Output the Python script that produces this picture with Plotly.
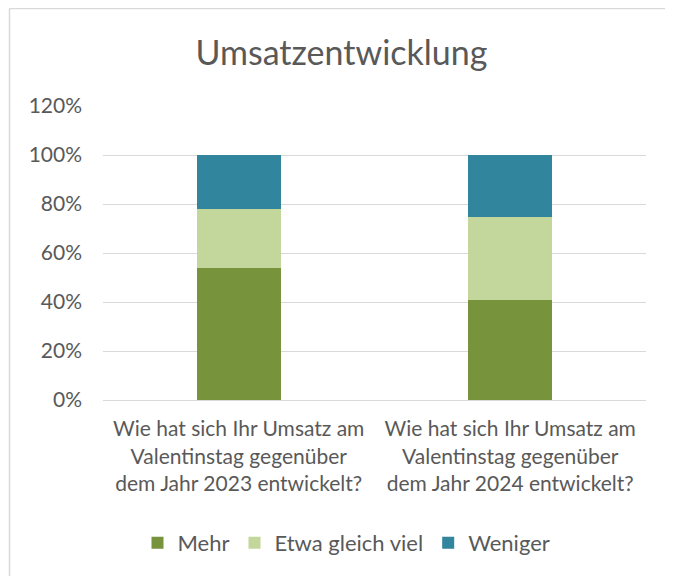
import plotly.graph_objects as go

categories = [
    "Wie hat sich Ihr Umsatz am<br>Valentinstag gegenüber<br>dem Jahr 2023 entwickelt?",
    "Wie hat sich Ihr Umsatz am<br>Valentinstag gegenüber<br>dem Jahr 2024 entwickelt?",
]
mehr = [0.54, 0.41]
etwa = [0.24, 0.335]
weniger = [0.22, 0.255]
series_names = ["Mehr", "Etwa gleich viel", "Weniger"]
colors = ["#77933C", "#C3D69B", "#31859C"]
tick_vals = [0, 0.2, 0.4, 0.6, 0.8, 1.0, 1.2]
tick_text = ["0%", "20%", "40%", "60%", "80%", "100%", "120%"]

FONT = "Lato, 'Open Sans', sans-serif"
GREY = "#595959"

fig = go.Figure()
for name, vals, col in zip(series_names, [mehr, etwa, weniger], colors):
    fig.add_trace(go.Bar(x=categories, y=vals, name=name, marker=dict(color=col, line=dict(width=0))))

# page body has an 8px margin; figure is sized to fill the rest of the window
OFF = 8
W, H = 673 - OFF, 576 - OFF
L, T = 103 - OFF, 106 - OFF
R = W - (646 - OFF)
B = H - (400 - OFF)
pw, ph = W - L - R, H - T - B

fig.update_layout(
    width=W, height=H,
    barmode="stack", bargap=0.69,
    margin=dict(l=L, r=R, t=T, b=B, autoexpand=False),
    paper_bgcolor="white", plot_bgcolor="white",
    font=dict(family=FONT, color=GREY, size=21),
    title=dict(text="Umsatzentwicklung", x=(341.5 - OFF) / W, xanchor="center", xref="container",
               y=1 - (53 - OFF) / H, yanchor="middle", yref="container",
               font=dict(size=34, color=GREY, family=FONT)),
    legend=dict(orientation="h", x=(346.5 - 103) / pw, xanchor="center",
                y=(400 - 543) / ph, yanchor="middle",
                font=dict(size=22, color=GREY), traceorder="normal", itemwidth=30),
    showlegend=True,
)
fig.update_yaxes(range=[0, 1.2], tickvals=tick_vals, ticktext=tick_text, showgrid=True,
                 gridcolor="#D9D9D9", gridwidth=1, zeroline=False, showline=False,
                 ticks="", ticklabelstandoff=20, tickfont=dict(size=21, color=GREY))
fig.update_xaxes(showgrid=False, showline=True, linecolor="#D9D9D9", linewidth=1, ticks="",
                 tickfont=dict(size=21, color=GREY), ticklabelstandoff=10)

# outer chart border (only left & top edges are visible in the window)
x_left = (9.5 - 103) / pw
y_top = 1 + (106 - 8.5) / ph
fig.add_shape(type="line", xref="paper", yref="paper",
              x0=x_left, x1=x_left, y0=(400 - 700) / ph, y1=y_top,
              line=dict(color="#D9D9D9", width=1.5), layer="below")
fig.add_shape(type="line", xref="paper", yref="paper",
              x0=x_left, x1=(760 - 103) / pw, y0=y_top, y1=y_top,
              line=dict(color="#D9D9D9", width=1.5), layer="below")

fig.write_html("out.html")
